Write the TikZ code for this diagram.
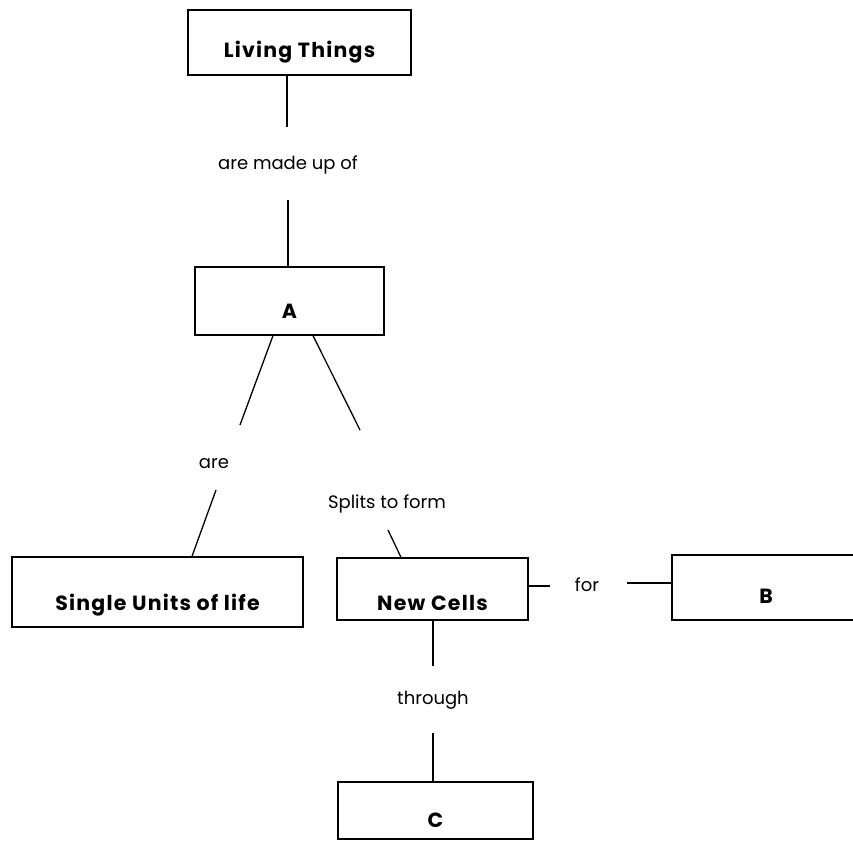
\documentclass[tikz,border=0pt]{standalone}
\usepackage{fontspec}
\setmainfont{Poppins}
\newfontfamily\boxfont[LetterSpace=6]{Poppins}
\newcommand{\boxtext}[2]{\raisebox{-#1pt}[0pt][0pt]{#2}}
\begin{document}
\begin{tikzpicture}[x=1pt,y=-1pt,
  box/.style={draw, line width=1.3pt, inner sep=0pt, font=\boxfont\fontsize{20.5}{23}\selectfont\bfseries},
  lbl/.style={inner sep=1pt, font=\fontsize{18}{21}\selectfont},
  conn/.style={line width=1.3pt}]
\useasboundingbox (0,0) rectangle (853,848);
% boxes
\node[box, minimum width=223pt, minimum height=65pt] (LT) at (299.5,42.5) {\boxtext{15}{Living Things}};
\node[box, minimum width=189pt, minimum height=68pt] (A) at (289.5,301) {\boxtext{17}{A}};
\node[box, minimum width=291pt, minimum height=70pt] (SU) at (157.5,592) {\boxtext{18}{Single Units of life}};
\node[box, minimum width=191pt, minimum height=62pt] (NC) at (432.5,589) {\boxtext{21}{New Cells}};
\node[box, minimum width=188pt, minimum height=65pt] (B) at (766,587.5) {\boxtext{16}{B}};
\node[box, minimum width=195pt, minimum height=57pt] (C) at (435.5,810.5) {\boxtext{17}{C}};
% labels
\node[lbl] (made) at (288,165) {are made up of};
\node[lbl] (are) at (214,464) {are};
\node[lbl] (splits) at (387,504) {Splits to form};
\node[lbl] (for) at (587,585) {for};
\node[lbl] (through) at (433,700) {through};
% connector end points
\coordinate (m1) at (287,127);
\coordinate (m2) at (288,200);
\coordinate (a1) at (273,335);
\coordinate (a2) at (240,425);
\coordinate (a3) at (216,490);
\coordinate (a4) at (192,557);
\coordinate (s1) at (313,335);
\coordinate (s2) at (360,430);
\coordinate (s3) at (388,530);
\coordinate (s4) at (401,558);
\coordinate (f1) at (550,586);
\coordinate (f2) at (627,583);
\coordinate (t1) at (433,666);
\coordinate (t2) at (433,733);
% connectors
\draw[conn] (LT.south -| m1) -- (m1);
\draw[conn] (m2) -- (A.north -| m2);
\draw[conn] (A.south -| a1) -- (a2);
\draw[conn] (a3) -- (SU.north -| a4);
\draw[conn] (A.south -| s1) -- (s2);
\draw[conn] (s3) -- (NC.north -| s4);
\draw[conn] (NC.east |- f1) -- (f1);
\draw[conn] (f2) -- (B.west |- f2);
\draw[conn] (NC.south -| t1) -- (t1);
\draw[conn] (t2) -- (C.north -| t2);
\end{tikzpicture}
\end{document}
